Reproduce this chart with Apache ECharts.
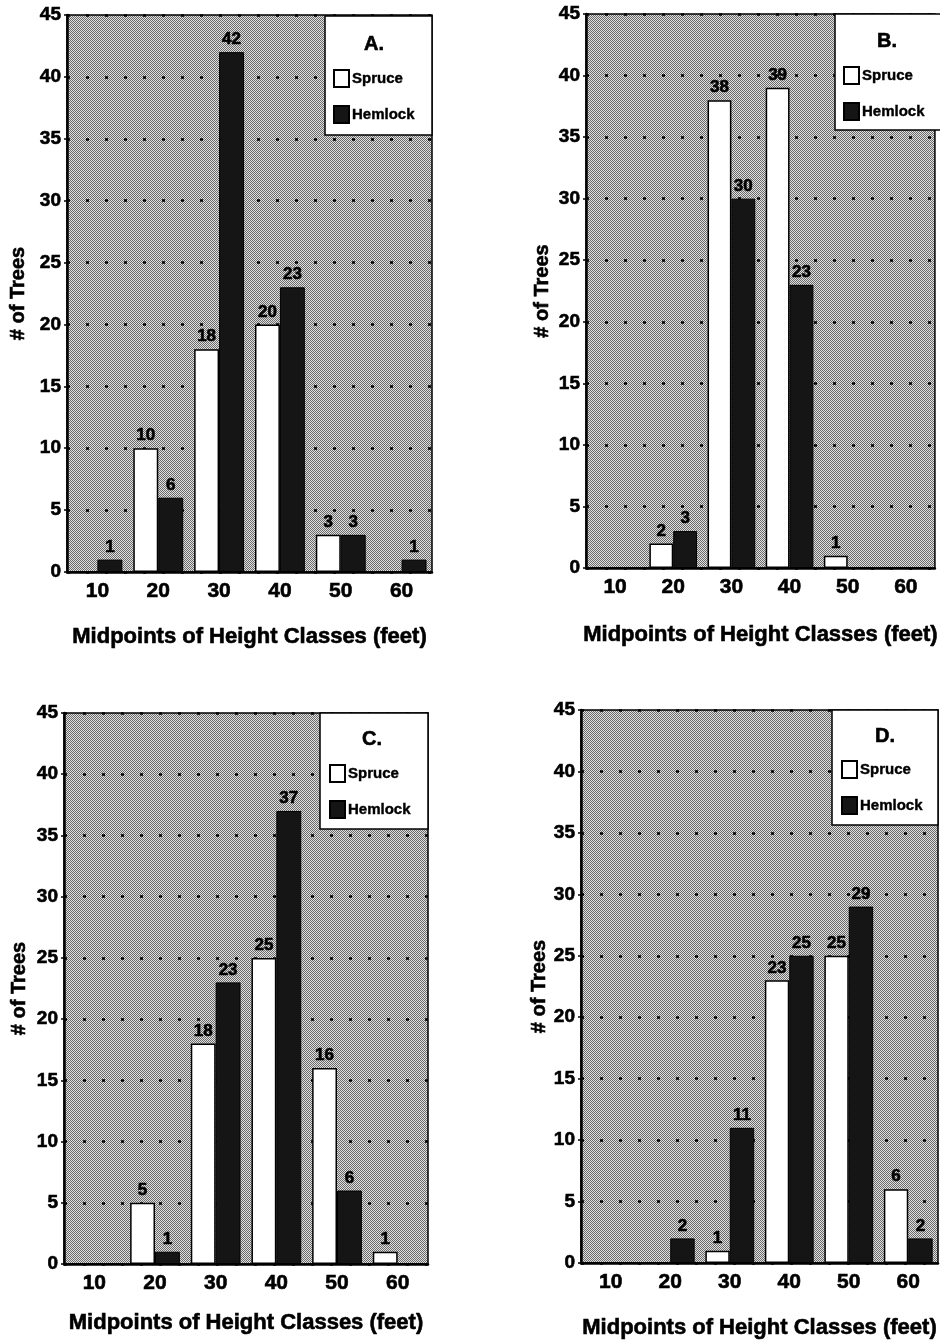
<!DOCTYPE html>
<html>
<head>
<meta charset="utf-8">
<script src="https://cdn.jsdelivr.net/npm/echarts@6/dist/echarts.min.js"></script>
<style>
html,body{margin:0;padding:0;background:#fff;}
#chart{width:940px;height:1342px;}
</style>
</head>
<body>
<div id="chart"></div>
<script>
// ---- data ----
const categories = ['10', '20', '30', '40', '50', '60'];
const panelLabels = ['A.', 'B.', 'C.', 'D.'];
const spruceA = [0, 10, 18, 20, 3, 0];
const hemlockA = [1, 6, 42, 23, 3, 1];
const spruceB = [0, 2, 38, 39, 1, 0];
const hemlockB = [0, 3, 30, 23, 0, 0];
const spruceC = [0, 5, 18, 25, 16, 1];
const hemlockC = [0, 1, 23, 37, 6, 0];
const spruceD = [0, 0, 1, 23, 25, 6];
const hemlockD = [0, 2, 11, 25, 29, 2];
const yTicks = [0, 5, 10, 15, 20, 25, 30, 35, 40, 45];
const xTitle = 'Midpoints of Height Classes (feet)';
const yTitle = '# of Trees';

const spruceSets = [spruceA, spruceB, spruceC, spruceD];
const hemlockSets = [hemlockA, hemlockB, hemlockC, hemlockD];

// ---- layout ----
const grids = [
  {left: 67, top: 15, width: 365, height: 557},
  {left: 586, top: 14, width: 354, height: 554},
  {left: 64, top: 713, width: 364, height: 551},
  {left: 581, top: 710, width: 357, height: 553}
];
const xNameGaps = [54, 56, 48, 54];
const yNameGaps = [39, 34, 35, 32];
const boxes = [
  {x: 325, y: 16, w: 107, h: 119, tx: 374, ty: 34, lx: 333, ly: 69},
  {x: 835, y: 14, w: 110, h: 116, tx: 887, ty: 31, lx: 843, ly: 66},
  {x: 320, y: 713, w: 108, h: 116, tx: 372, ty: 729, lx: 329, ly: 764},
  {x: 832, y: 710, w: 106, h: 115, tx: 885, ty: 726, lx: 841, ly: 760}
];

const FONT = '"Liberation Sans", Arial, sans-serif';
const heavy = {textBorderColor: '#000', textBorderWidth: 0.6};

// stipple pattern for plot background
const pc = document.createElement('canvas');
pc.width = 2; pc.height = 2;
const pctx = pc.getContext('2d');
pctx.fillStyle = '#e0e0e0'; pctx.fillRect(0, 0, 2, 2);
pctx.fillStyle = '#6a6a6a'; pctx.fillRect(0, 0, 1, 1); pctx.fillRect(1, 1, 1, 1);
const stipple = {image: pc, repeat: 'repeat'};

const labelOpt = Object.assign({
  show: true, position: 'top', distance: 4,
  fontFamily: FONT, fontWeight: 'bold', fontSize: 17, color: '#000',
  formatter: p => (p.value ? String(p.value) : '')
}, heavy);

const option = {
  animation: false,
  backgroundColor: '#fff',
  grid: grids.map(g => Object.assign({
    show: true, backgroundColor: stipple, borderColor: '#000', borderWidth: 1.5,
    containLabel: false
  }, g)),
  xAxis: grids.map((g, i) => ({
    type: 'category', gridIndex: i, data: categories,
    axisLine: {show: true, lineStyle: {color: '#000', width: 2.5}},
    axisTick: {show: false},
    axisLabel: Object.assign({fontFamily: FONT, fontWeight: 'bold', fontSize: 21, color: '#000', margin: 9}, heavy),
    name: xTitle, nameLocation: 'middle', nameGap: xNameGaps[i],
    nameTextStyle: Object.assign({fontFamily: FONT, fontWeight: 'bold', fontSize: 22, color: '#000'}, heavy)
  })),
  yAxis: grids.map((g, i) => ({
    type: 'value', gridIndex: i, min: yTicks[0], max: yTicks[yTicks.length - 1], interval: 5,
    axisLine: {show: true, lineStyle: {color: '#000', width: 2.5}},
    axisTick: {show: true, length: 3, lineStyle: {color: '#000', width: 1.5}},
    axisLabel: Object.assign({fontFamily: FONT, fontWeight: 'bold', fontSize: 19, color: '#000', margin: 6}, heavy),
    splitLine: {show: true, lineStyle: {color: '#000', width: 2.5, type: [3, 16]}},
    name: yTitle, nameLocation: 'middle', nameGap: yNameGaps[i], nameRotate: 90,
    nameTextStyle: Object.assign({fontFamily: FONT, fontWeight: 'bold', fontSize: 20, color: '#000'}, heavy)
  })),
  legend: boxes.map(b => ({
    data: ['Spruce', 'Hemlock'], orient: 'vertical', left: b.lx, top: b.ly,
    itemWidth: 15, itemHeight: 17, itemGap: 17, icon: 'rect', z: 30,
    selectedMode: false, padding: 0,
    textStyle: Object.assign({fontFamily: FONT, fontWeight: 'bold', fontSize: 15, color: '#000', padding: [0, 0, 0, -2]}, {textBorderColor: '#000', textBorderWidth: 0.4})
  })),
  graphic: boxes.flatMap((b, i) => [
    {type: 'rect', shape: {x: b.x, y: b.y, width: b.w, height: b.h}, z: 20,
     style: {fill: '#fff', stroke: '#000', lineWidth: 1.5}},
    {type: 'text', x: b.tx, y: b.ty, z: 25,
     style: {text: panelLabels[i], fill: '#000', font: 'bold 20px ' + FONT, textAlign: 'center', textVerticalAlign: 'top', stroke: '#000', lineWidth: 0.6}}
  ]),
  series: []
};

for (let i = 0; i < 4; i++) {
  option.series.push({
    name: 'Spruce', type: 'bar', xAxisIndex: i, yAxisIndex: i,
    data: spruceSets[i], barGap: '0%', barCategoryGap: '18%',
    itemStyle: {color: '#fff', borderColor: '#000', borderWidth: 1.5},
    label: labelOpt, z: 5
  });
  option.series.push({
    name: 'Hemlock', type: 'bar', xAxisIndex: i, yAxisIndex: i,
    data: hemlockSets[i], barGap: '0%', barCategoryGap: '18%',
    itemStyle: {color: '#151515', borderColor: '#000', borderWidth: 1},
    label: labelOpt, z: 5
  });
}

const chart = echarts.init(document.getElementById('chart'), null, {renderer: 'canvas'});
chart.setOption(option);
</script>
</body>
</html>
